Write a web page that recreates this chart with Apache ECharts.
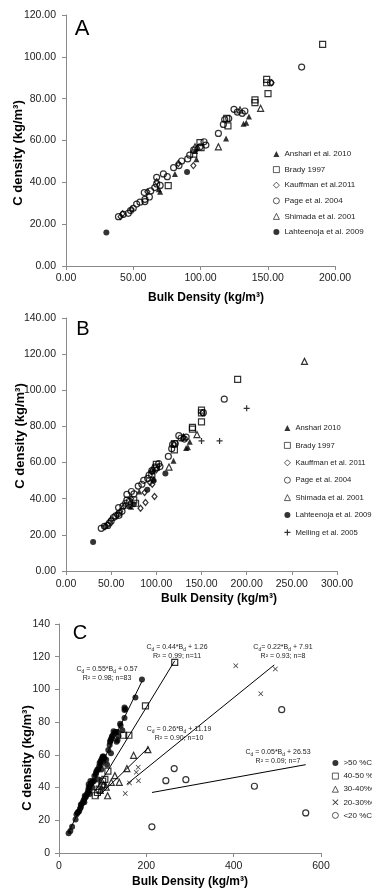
<!DOCTYPE html>
<html>
<head>
<meta charset="utf-8">
<script src="https://cdn.jsdelivr.net/npm/echarts@6.0.0/dist/echarts.min.js"></script>
<style>
  html, body { margin: 0; padding: 0; background: #fff; }
  #chart { width: 372px; height: 888px; }
</style>
</head>
<body>
<div id="chart"></div>
<script>
// ---- panel A : bulk density vs C density per study ----
const aAnshari = [[70, 35.5], [69, 36.7], [81, 44], [97, 51], [96, 55], [119, 61], [132, 68], [134, 68.5], [136, 71.5]];
const aBrady = [[76, 38.4], [95, 53.5], [99.6, 59], [100.4, 56.6], [119.5, 70.6], [120.4, 67], [140.5, 79.4], [140.5, 78.1], [149.2, 89.2], [149.2, 87.6], [150.2, 82.4], [190.8, 106]];
const aKauffman = [[40.6, 23.6], [42, 25], [48.8, 27.1], [60.5, 35.5], [67.4, 40.3], [83.5, 49], [94.7, 48], [97.6, 56.3], [152.9, 87.6]];
const pageData = [[39, 23.6], [42.6, 24.7], [46.3, 25.2], [48, 26.5], [50, 27.6], [52.5, 29.6], [55, 30.5], [58.7, 31.9], [58.7, 30.8], [58.2, 35.1], [62, 33], [63, 35.9], [66, 37.5], [67.4, 42.4], [67.4, 39.2], [70, 38.5], [72.4, 44], [75.3, 42.7], [80, 47], [84, 48], [86, 50.2], [90.5, 51.2], [92, 53], [95, 55.5], [99.6, 57], [102.6, 59.4], [104, 57.8], [113.3, 63.4], [117, 67.7], [118, 70], [121, 70.5], [124.9, 74.9], [127.4, 73.6], [131, 73], [133, 74.1], [152, 87.6], [175.2, 95.1]];
const aShimada = [[95.9, 57], [113.3, 57], [129.4, 74.6], [144.7, 75.4]];
const aLahteenoja = [[30, 16], [90, 45]];

// ---- panel B : same plus Melling ----
const bAnshari = [[70, 36], [72, 35.5], [81, 44], [97, 51], [96, 55], [119, 61], [133, 68], [135, 68.5], [137, 71.5]];
const bBrady = [[75, 39.3], [77, 37.5], [95, 53.5], [100, 59], [100, 57.5], [120, 70.5], [120, 67], [140, 79.5], [140, 78.5], [150, 89], [150, 87.5], [150, 82.5], [190, 106]];
const bKauffman = [[43, 24.5], [46, 25.5], [50, 28.5], [56, 31], [60, 33], [65, 36], [72, 40], [82.5, 34.7], [88, 37.9], [98, 41.2], [87, 43.4], [93, 49], [95.5, 48], [95, 55], [100, 56], [120, 70], [130, 74], [151, 87.5]];
const bShimada = [[96, 57], [114, 57.5], [130, 74], [145, 75.5], [264, 116]];
const bLahteenoja = [[30, 16], [75, 37], [90, 45], [97, 50], [110, 54]];
const bMelling = [[150, 72], [170, 72], [200, 90]];

// ---- panel C : grouped by carbon content ----
const cOver50 = [[22, 12], [26, 13.5], [30, 16], [38, 20.5], [40, 23.5], [42, 24.5], [44, 25], [46, 25.5], [48, 27], [50, 28], [50, 29.5], [52, 30], [55, 31], [56, 32], [58, 31], [58, 33], [59, 35], [60, 34], [62, 34.5], [64, 36], [66, 37], [67, 38.5], [68, 40], [68, 42], [70, 36], [70, 38], [71, 41], [72, 44], [74, 42.5], [75, 43], [76, 40], [78, 44], [80, 44], [81, 47], [84, 48], [85, 49], [86, 50], [88, 51], [90, 45], [90, 51], [92, 53], [93, 55], [95, 56], [96, 54], [97, 51], [97, 57], [99, 58], [100, 59], [101, 56], [102, 59], [104, 58], [108, 57], [110, 54], [113, 63], [116, 66], [117, 68], [118, 69], [119, 61], [120, 70], [121, 71], [123, 72], [125, 74.5], [127, 73.5], [130, 74], [132, 68], [133, 74], [134, 69], [136, 71.5], [140, 79], [141, 78], [145, 75], [150, 89], [150, 87.5], [150, 82.5], [152, 88], [175, 95], [190, 106]];
const c40to50 = [[83, 35], [88, 37], [92, 39], [98, 41], [100, 44], [105, 45], [112, 50], [148, 72], [160, 72], [198, 90], [265, 116.5]];
const c30to40 = [[94.5, 38.3], [102, 42], [108, 40.3], [111.3, 35], [119.7, 43.2], [128, 47.3], [138, 43.2], [155.5, 51.6], [170.8, 59.7], [203.6, 63.2]];
const c20to30 = [[151.7, 36.3], [161.6, 42.8], [177, 49.3], [181.4, 52.4], [182, 44.2], [404.8, 114.5], [462, 97.4], [495.5, 112.5]];
const cUnder20 = [[212.7, 16], [244.7, 44.2], [263.8, 51.6], [290.5, 44.8], [447.5, 40.8], [510, 87.6], [565, 24.5]];
// fitted lines, end points
const cFit50 = [[22, 12.7], [190, 105]];
const cFit40 = [[83, 37.8], [265, 117.5]];
const cFit30 = [[88, 34], [205, 64.5]];
const cFit20 = [[155, 42], [493, 115]];
const cFit0 = [[213, 37], [565, 54]];

const FONT = 'Arial, "Liberation Sans", sans-serif';
const AXIS_GREY = '#8a8a8a';
const open = { color: 'rgba(255,255,255,0)', borderColor: '#000', borderWidth: 1.2 };
const solid = { color: '#000', borderWidth: 0 };
const PLUS = 'path://M4,0H6V4H10V6H6V10H4V6H0V4H4Z';
const CROSS = 'path://M0,1L1,0L5,4L9,0L10,1L6,5L10,9L9,10L5,6L1,10L0,9L4,5Z';

function sc(name, data, gi, symbol, size, style) {
  return {
    type: 'scatter', name: name, data: data,
    xAxisIndex: gi, yAxisIndex: gi,
    symbol: symbol, symbolSize: size, itemStyle: style,
    silent: true, emphasis: { disabled: true }
  };
}

function fit(data) {
  return {
    type: 'line', data: data, xAxisIndex: 2, yAxisIndex: 2,
    symbol: 'none', silent: true,
    lineStyle: { color: '#000', width: 1 }
  };
}

function axis(gi, max, interval, dec, margin) {
  return {
    type: 'value', gridIndex: gi, min: 0, max: max, interval: interval,
    axisLine: { show: true, lineStyle: { color: AXIS_GREY, width: 1 } },
    axisTick: { show: true, inside: false, length: 4, lineStyle: { color: AXIS_GREY } },
    splitLine: { show: false },
    axisLabel: {
      color: '#222', fontSize: 10.5, fontFamily: FONT, margin: margin,
      formatter: function (v) { return dec ? v.toFixed(2) : String(v); }
    }
  };
}

function legend(names, left, top, gap, size) {
  return {
    data: names, orient: 'vertical', left: left, top: top, padding: 0,
    itemWidth: 6, itemHeight: 6, itemGap: gap, selectedMode: false,
    itemStyle: { borderWidth: 0.8 },
    textStyle: { fontSize: size || 8, lineHeight: 8, color: '#222', fontFamily: FONT }
  };
}

function label(x, y, text, size, extra) {
  return Object.assign({
    type: 'text', x: x, y: y, silent: true,
    style: { text: text, fontSize: size, fontFamily: FONT, fill: '#000', align: 'center', verticalAlign: 'middle' }
  }, extra || {});
}

function eq(x, y, coef, icpt, r2, n, tight) {
  return {
    type: 'text', x: x, y: y, silent: true,
    style: {
      text: '{t|C}{s|d}{t|' + (tight ? '= ' : ' = ') + coef + '*B}{s|d}{t| + ' + icpt + '}\n{t|R² = ' + r2 + '; n=' + n + '}',
      align: 'center', verticalAlign: 'middle', fontFamily: FONT, fill: '#222',
      rich: {
        t: { fontSize: 7, lineHeight: 9, fontFamily: FONT, fill: '#222' },
        s: { fontSize: 5, lineHeight: 9, fontFamily: FONT, fill: '#222', padding: [4, 0, 0, 0] }
      }
    }
  };
}

const chart = echarts.init(document.getElementById('chart'), null, { renderer: 'canvas' });

const option = {
  animation: false,
  backgroundColor: '#fff',
  textStyle: { fontFamily: FONT },
  grid: [
    { left: 66, top: 15, width: 269, height: 251, outerBoundsMode: 'none' },
    { left: 66, top: 318, width: 271, height: 253, outerBoundsMode: 'none' },
    { left: 59, top: 624, width: 262, height: 229, outerBoundsMode: 'none' }
  ],
  xAxis: [
    axis(0, 200, 50, true, 7),
    axis(1, 300, 50, true, 8),
    axis(2, 600, 200, false, 8)
  ],
  yAxis: [
    axis(0, 120, 20, true, 10),
    axis(1, 140, 20, true, 10),
    axis(2, 140, 20, false, 9)
  ],
  legend: [
    legend(['Anshari et al. 2010', 'Brady 1997', 'Kauffman et al.2011', 'Page et al. 2004', 'Shimada et al. 2001', 'Lahteenoja et al. 2009'], 273, 150, 7.6),
    legend(['Anshari 2010', 'Brady 1997', 'Kauffman et al. 2011', 'Page et al. 2004', 'Shimada et al. 2001', 'Lahteenoja et al. 2009', 'Melling et al. 2005'], 284, 424, 9.4, 7.7),
    legend(['>50 %C', '40-50 %C', '30-40%C', '20-30%C', '<20 %C'], 332, 759, 5.1)
  ],
  series: [
    // A
    sc('Page et al. 2004', pageData, 0, 'circle', 6, open),
    sc('Kauffman et al.2011', aKauffman, 0, 'diamond', [5, 6], open),
    sc('Brady 1997', aBrady, 0, 'rect', 6, open),
    sc('Shimada et al. 2001', aShimada, 0, 'triangle', 6, open),
    sc('Anshari et al. 2010', aAnshari, 0, 'triangle', 6, solid),
    sc('Lahteenoja et al. 2009', aLahteenoja, 0, 'circle', 6, solid),
    // B
    sc('Page et al. 2004', pageData, 1, 'circle', 6, open),
    sc('Kauffman et al. 2011', bKauffman, 1, 'diamond', [5, 6], open),
    sc('Brady 1997', bBrady, 1, 'rect', 6, open),
    sc('Shimada et al. 2001', bShimada, 1, 'triangle', 6, open),
    sc('Anshari 2010', bAnshari, 1, 'triangle', 6, solid),
    sc('Lahteenoja et al. 2009', bLahteenoja, 1, 'circle', 6, solid),
    sc('Melling et al. 2005', bMelling, 1, PLUS, 6, solid),
    // C
    sc('>50 %C', cOver50, 2, 'circle', 6, solid),
    sc('40-50 %C', c40to50, 2, 'rect', 6, open),
    sc('30-40%C', c30to40, 2, 'triangle', 6, open),
    sc('20-30%C', c20to30, 2, CROSS, 5, solid),
    sc('<20 %C', cUnder20, 2, 'circle', 6, open),
    fit(cFit50), fit(cFit40), fit(cFit30), fit(cFit20), fit(cFit0)
  ],
  graphic: [
    label(82, 29, 'A', 22),
    label(83, 329, 'B', 20),
    label(80, 633, 'C', 20),
    label(18, 153, 'C density (kg/m³)', 13, { rotation: Math.PI / 2 }),
    label(20, 436, 'C density (kg/m³)', 13, { rotation: Math.PI / 2 }),
    label(27, 758, 'C density (kg/m³)', 13, { rotation: Math.PI / 2 }),
    label(206, 298, 'Bulk Density (kg/m³)', 12),
    label(219, 599, 'Bulk Density (kg/m³)', 12),
    label(190, 882, 'Bulk Density (kg/m³)', 12),
    eq(107, 674, '0.55', '0.57', '0.98', 83),
    eq(177, 652, '0.44', '1.26', '0.99', 11),
    eq(283, 652, '0.22', '7.91', '0.93', 8, true),
    eq(179, 734, '0.26', '11.19', '0.90', 10),
    eq(278, 757, '0.05', '26.53', '0.09', 7)
  ]
};
// bold titles
option.graphic.slice(3, 9).forEach(function (g) { g.style.fontWeight = 'bold'; });

chart.setOption(option);
</script>
</body>
</html>
